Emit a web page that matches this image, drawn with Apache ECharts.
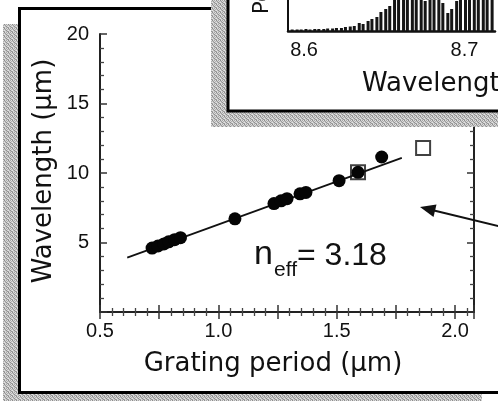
<!DOCTYPE html>
<html>
<head>
<meta charset="utf-8">
<script src="https://cdn.jsdelivr.net/npm/echarts@6/dist/echarts.min.js"></script>
<style>
  html, body { margin: 0; padding: 0; background: #fff; }
  #chart { width: 498px; height: 401px; }
</style>
</head>
<body>
<div id="chart"></div>
<script>
// main panel: grating period vs emission wavelength
const periodFilled = [0.72, 0.745, 0.77, 0.79, 0.815, 0.84, 1.07, 1.235, 1.265, 1.29, 1.345, 1.37, 1.51, 1.59, 1.69];
const wavelengthFilled = [4.6, 4.75, 4.9, 5.05, 5.2, 5.35, 6.7, 7.8, 8.0, 8.15, 8.5, 8.6, 9.45, 10.05, 11.15];
const periodOpen = [1.59, 1.865];
const wavelengthOpen = [10.05, 11.8];
// linear fit, n_eff = 3.18
const fitPeriod = [0.615, 1.775];
const fitWavelength = [3.91, 11.09];

// inset: spectrum (only the lower left corner is visible)
const specWavelength = [8.5926, 8.5957, 8.5982, 8.6012, 8.6037, 8.6067, 8.6092, 8.6123, 8.6147, 8.6178,
  8.6202, 8.6233, 8.6258, 8.6288, 8.6313, 8.6344, 8.6368, 8.6399, 8.6423, 8.6454,
  8.6479, 8.6509, 8.6534, 8.6564, 8.6589, 8.6620, 8.6644, 8.6675, 8.6699, 8.6730,
  8.6755, 8.6785, 8.6810, 8.6840, 8.6865, 8.6896, 8.6920, 8.6951, 8.6975, 8.7006,
  8.7031, 8.7061, 8.7086, 8.7117, 8.7141, 8.7172];
const specPower = [1.5, 1.5, 1.5, 2, 1.5, 2, 2, 2, 2.5, 2.5,
  3, 3, 4, 4.5, 5, 8, 7, 10, 12, 14,
  19, 22, 25, 34, 38, 40, 36, 40, 38, 40,
  30, 40, 38, 35, 28, 18, 22, 30, 40, 38,
  40, 36, 40, 38, 40, 37];

// grey speckle used for the drop shadows
function speckle() {
  const c = document.createElement('canvas');
  c.width = 4; c.height = 4;
  const ctx = c.getContext('2d');
  const g = ['#8c8c8c', '#d4d4d4', '#a8a8a8', '#e2e2e2',
             '#c4c4c4', '#9c9c9c', '#dadada', '#b2b2b2',
             '#e6e6e6', '#b8b8b8', '#909090', '#cfcfcf',
             '#a2a2a2', '#dddddd', '#c0c0c0', '#969696'];
  for (let i = 0; i < 16; i++) {
    ctx.fillStyle = g[i];
    ctx.fillRect(i % 4, Math.floor(i / 4), 1, 1);
  }
  return c;
}
const shadowFill = { image: speckle(), repeat: 'repeat' };

const tickFont = { fontFamily: 'Liberation Sans', fontSize: 20, color: '#111' };
const frameLine = { lineStyle: { color: '#222', width: 2 } };

function frameAxis(extra) {
  return Object.assign({
    type: 'value',
    gridIndex: 0,
    z: 5,
    axisLine: frameLine,
    axisTick: { inside: true, length: 7, lineStyle: { color: '#333', width: 1.5 } },
    minorTick: { show: true, splitNumber: 5, length: 4, lineStyle: { color: '#444', width: 1.3 } },
    splitLine: { show: false },
    minorSplitLine: { show: false }
  }, extra);
}

const chart = echarts.init(document.getElementById('chart'));

chart.setOption({
  animation: false,
  grid: [
    { left: 100, right: 24, top: 34, bottom: 89 },
    { left: 288, right: 0, top: 0, bottom: 370 }
  ],
  xAxis: [
    frameAxis({
      position: 'bottom', min: 0.5, max: 2.08, interval: 0.25,
      axisLabel: Object.assign({ margin: 9, formatter: v => Math.abs(v * 2 - Math.round(v * 2)) < 1e-6 ? v.toFixed(1) : '' }, tickFont)
    }),
    frameAxis({
      position: 'top', min: 0.5, max: 2.08, interval: 0.25,
      axisLabel: { show: false }
    }),
    {
      type: 'value', gridIndex: 1, z: 12, min: 8.59, max: 8.719, interval: 0.01,
      axisLine: { lineStyle: { color: '#111', width: 2.5 } },
      axisTick: { show: false },
      splitLine: { show: false },
      axisLabel: Object.assign({ margin: 9, formatter: v => { const r = Math.round(v * 100); return r % 10 === 0 ? (r / 100).toFixed(1) : ''; } }, tickFont)
    }
  ],
  yAxis: [
    frameAxis({
      position: 'left', min: 0, max: 20, interval: 5,
      axisLabel: Object.assign({ margin: 11, formatter: v => v === 0 ? '' : String(v) }, tickFont)
    }),
    frameAxis({
      position: 'right', min: 0, max: 20, interval: 5,
      axisLabel: { show: false }
    }),
    {
      type: 'value', gridIndex: 1, z: 12, min: 0, max: 31,
      axisLine: { show: true, lineStyle: { color: '#111', width: 2 } },
      axisTick: { show: false },
      axisLabel: { show: false },
      splitLine: { show: false }
    }
  ],
  series: [
    {
      type: 'line',
      xAxisIndex: 0, yAxisIndex: 0, z: 6,
      data: fitPeriod.map((p, i) => [p, fitWavelength[i]]),
      symbol: 'none',
      lineStyle: { color: '#111', width: 1.8 }
    },
    {
      type: 'scatter',
      xAxisIndex: 0, yAxisIndex: 0, z: 7,
      data: periodFilled.map((p, i) => [p, wavelengthFilled[i]]),
      symbol: 'circle', symbolSize: 13,
      itemStyle: { color: '#050505', opacity: 1 }
    },
    {
      type: 'scatter',
      xAxisIndex: 0, yAxisIndex: 0, z: 8,
      data: periodOpen.map((p, i) => [p, wavelengthOpen[i]]),
      symbol: 'rect', symbolSize: 14,
      itemStyle: { color: 'rgba(0,0,0,0)', borderColor: '#111', borderWidth: 2 }
    },
    {
      type: 'bar',
      xAxisIndex: 2, yAxisIndex: 2, z: 13,
      data: specWavelength.map((w, i) => [w, specPower[i]]),
      barWidth: 3,
      itemStyle: { color: '#151515' }
    }
  ],
  graphic: { elements: [
    // main panel + shadow
    { type: 'rect', z: 1, shape: { x: 3, y: 24, width: 479, height: 390 }, style: { fill: shadowFill } },
    { type: 'rect', z: 2, shape: { x: 19.5, y: 8.5, width: 500, height: 384 }, style: { fill: '#fff', stroke: '#000', lineWidth: 3 } },
    { type: 'text', z: 6, x: 44, y: 171, rotation: Math.PI / 2,
      style: { text: 'Wavelength (µm)', font: '26px "DejaVu Sans"', fill: '#111', align: 'center', verticalAlign: 'middle' } },
    { type: 'text', z: 6, x: 273, y: 364,
      style: { text: 'Grating period (µm)', font: '26px "DejaVu Sans"', fill: '#111', align: 'center', verticalAlign: 'middle' } },
    { type: 'text', z: 6, x: 254, y: 255,
      style: { text: 'n', font: '34px "Liberation Sans"', fill: '#111', align: 'left', verticalAlign: 'middle' } },
    { type: 'text', z: 6, x: 274, y: 270,
      style: { text: 'eff', font: '21px "Liberation Sans"', fill: '#111', align: 'left', verticalAlign: 'middle' } },
    { type: 'text', z: 6, x: 297, y: 256,
      style: { text: '= 3.18', font: '32px "Liberation Sans"', fill: '#111', align: 'left', verticalAlign: 'middle' } },
    // arrow pointing at the open square
    { type: 'line', z: 9, shape: { x1: 500, y1: 226.5, x2: 433, y2: 210.2 }, style: { stroke: '#111', lineWidth: 2 } },
    { type: 'polygon', z: 9, shape: { points: [[420, 207], [436.5, 204.5], [433.5, 217]] }, style: { fill: '#111' } },
    // inset panel + shadow
    { type: 'rect', z: 10, shape: { x: 211, y: -20, width: 300, height: 147 }, style: { fill: shadowFill } },
    { type: 'rect', z: 11, shape: { x: 228, y: -20, width: 300, height: 131 }, style: { fill: '#fff', stroke: '#000', lineWidth: 3 } },
    { type: 'text', z: 13, x: 263, y: 14, rotation: Math.PI / 2,
      style: { text: 'Power (a.u.)', font: '21px "DejaVu Sans"', fill: '#111', align: 'left', verticalAlign: 'middle' } },
    { type: 'text', z: 13, x: 362, y: 84,
      style: { text: 'Wavelength (µm)', font: '26px "DejaVu Sans"', fill: '#111', align: 'left', verticalAlign: 'middle' } }
  ] }
});
</script>
</body>
</html>
